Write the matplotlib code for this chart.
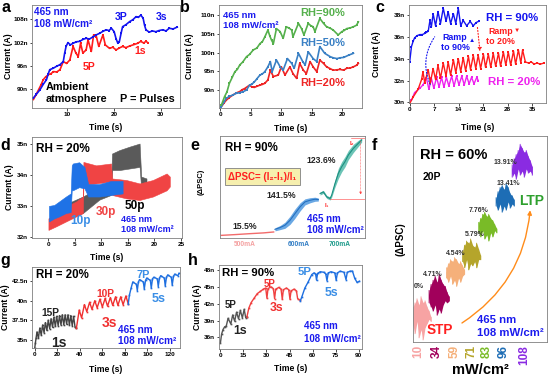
import matplotlib
matplotlib.use("Agg")
import matplotlib.pyplot as plt
import numpy as np

plt.rcParams["font.family"] = ["Liberation Sans", "DejaVu Sans"]
plt.rcParams["font.weight"] = "bold"
plt.rcParams["axes.linewidth"] = 0.6
plt.rcParams["axes.edgecolor"] = "#808080"

W, H = 548, 377

# ============================================================
# Data
# ============================================================

# (a) ambient atmosphere, 3P/3s vs 5P/1s
A_BLUE_T = [2.7, 3.3, 4.1, 4.8, 5.5, 5.9, 6.2, 7.0, 7.7, 8.4, 9.1, 9.4, 9.7, 10.1, 10.6, 11.2, 11.9, 12.6,
            13.3, 14.0, 14.7, 15.5, 16.2, 16.9, 17.6, 18.3, 18.9, 19.4, 20.0, 20.4, 20.8, 21.1, 21.5, 21.8,
            22.5, 23.3, 24.0, 24.7, 25.2, 25.7, 26.2, 26.5, 26.8, 27.5, 28.2, 28.9, 29.6, 30.4, 31.1, 31.8,
            32.6, 33.5]
A_BLUE_I = [87.7, 88.6, 89.8, 91.2, 92.4, 94.0, 95.0, 95.4, 95.9, 96.3, 97.1, 99.3, 101.0, 102.0, 101.4,
            101.8, 102.2, 102.3, 102.8, 103.1, 102.9, 103.5, 104.0, 104.4, 104.9, 105.3, 105.1, 105.7, 104.8,
            103.0, 101.8, 102.2, 104.5, 106.1, 106.6, 107.4, 107.9, 108.7, 108.5, 109.1, 108.3, 106.5, 105.3,
            104.7, 105.0, 104.8, 105.1, 105.3, 105.0, 105.7, 105.5, 106.0]
A_RED_T = [2.7, 3.2, 3.8, 4.3, 4.8, 5.3, 5.9, 6.5, 7.0, 7.7, 8.4, 9.1, 9.8, 10.5, 11.2, 11.8, 12.3, 12.8,
           13.3, 14.0, 14.4, 15.1, 15.6, 16.2, 16.7, 17.6, 18.1, 19.0, 19.7, 20.4, 21.1, 21.8, 22.5, 23.3,
           24.3, 25.0, 25.7, 26.3, 26.8, 27.2]
A_RED_I = [87.3, 88.4, 89.8, 91.0, 92.4, 93.1, 93.7, 94.0, 94.5, 94.4, 95.0, 97.1, 96.6, 97.5, 101.0, 99.3,
           98.4, 101.8, 99.3, 100.1, 102.7, 99.7, 104.0, 103.5, 101.0, 104.0, 101.4, 100.5, 100.8, 100.1,
           100.6, 101.0, 100.7, 101.1, 101.5, 101.8, 102.3, 101.9, 102.3, 102.0]

# (b) humidity 20 / 50 / 90 %
B_GREEN_T = [0.2, 0.7, 1.1, 1.5, 2.0, 2.4, 2.8, 3.2, 3.7, 4.3, 4.8, 5.4, 6.0, 6.5, 6.9, 7.3, 7.8, 8.1, 8.4,
             8.7, 9.2, 9.8, 10.3, 10.8, 11.3, 11.7, 11.9, 12.8, 13.3, 13.7, 14.4, 14.8, 15.2, 15.5, 16.3,
             16.9, 17.4, 18.0, 18.5, 19.3, 19.9, 20.3, 20.7, 21.3, 21.8, 22.3, 22.6]
B_GREEN_I = [86.0, 88.2, 89.5, 91.8, 93.5, 94.9, 95.5, 96.7, 97.5, 98.9, 99.5, 100.7, 101.2, 102.4, 102.9,
             104.2, 106.0, 104.5, 103.3, 102.4, 106.4, 105.6, 103.8, 106.9, 106.5, 106.0, 104.2, 107.8,
             106.4, 104.7, 107.8, 107.2, 106.9, 105.6, 109.1, 107.8, 106.9, 106.5, 106.0, 104.7, 105.6,
             105.9, 106.4, 106.6, 106.9, 107.3, 108.2]
B_BLUE_T = [0.2, 0.6, 1.0, 1.5, 2.1, 2.6, 3.2, 3.8, 4.3, 4.8, 5.2, 5.6, 6.0, 6.5, 6.9, 7.3, 7.8, 8.2, 8.5,
            9.2, 9.8, 10.3, 11.0, 11.7, 12.1, 12.8, 13.5, 13.9, 14.4, 15.2, 15.8, 16.3, 17.1, 18.0, 18.5,
            19.1, 19.6, 20.2, 21.0, 21.8]
B_BLUE_I = [85.6, 86.8, 87.8, 88.3, 88.7, 89.1, 89.3, 89.6, 90.0, 91.3, 91.6, 92.2, 93.0, 94.0, 94.3, 94.9,
            96.2, 97.6, 94.9, 98.0, 96.2, 95.3, 98.4, 97.1, 95.8, 99.8, 97.6, 96.7, 100.2, 98.4, 97.6, 101.6,
            99.8, 98.9, 98.6, 98.4, 98.6, 98.7, 99.3, 99.8]
B_RED_T = [0.2, 0.6, 1.0, 1.5, 2.1, 2.6, 3.2, 3.6, 4.0, 4.8, 5.2, 5.6, 6.0, 6.5, 6.9, 7.3, 7.8, 8.2, 8.7,
           9.5, 10.0, 10.6, 11.4, 11.9, 12.5, 13.0, 13.6, 14.1, 14.7, 15.2, 15.8, 16.3, 16.9, 17.4, 18.0,
           18.5, 19.1, 19.6, 20.2, 20.7, 21.3, 21.8, 22.3, 22.6]
B_RED_I = [85.6, 86.5, 87.3, 88.0, 88.7, 89.2, 89.6, 90.1, 90.4, 91.3, 90.8, 90.7, 91.0, 91.3, 91.5, 91.8,
           92.7, 95.3, 93.6, 94.0, 96.2, 94.0, 96.2, 94.4, 93.1, 97.1, 95.3, 94.4, 97.6, 96.2, 94.9, 98.0,
           97.1, 96.2, 95.7, 95.3, 95.4, 95.5, 95.3, 95.8, 95.9, 96.2, 96.6, 97.1]

# (c) ramping humidity
C_BLUE_T = [0.0, 0.5, 1.0, 1.4, 2.1, 2.9, 3.6, 4.3, 4.8, 5.3, 5.8, 6.2, 6.7, 7.4, 8.1, 8.8, 9.6, 10.4, 11.0,
            11.7, 12.5, 13.2, 13.9, 14.6, 15.3, 16.3, 17.3, 18.2, 19.0, 19.7]
C_BLUE_I = [33.7, 35.1, 35.6, 35.9, 36.1, 36.2, 36.2, 36.3, 36.4, 36.5, 37.5, 36.9, 38.1, 37.0, 38.3, 37.2,
            38.6, 37.4, 38.3, 37.2, 38.1, 37.2, 38.6, 37.0, 37.5, 37.0, 37.4, 37.0, 37.3, 37.4]
C_RED_T = [0.0, 1.0, 2.4, 3.4, 3.8, 4.3, 5.3, 5.9, 6.7, 7.4, 8.1, 8.8, 9.6, 10.4, 11.0, 11.7, 12.5, 13.2,
           13.9, 14.6, 15.3, 16.0, 16.8, 17.4, 18.2, 18.9, 19.6, 20.3, 21.1, 21.7, 22.5, 23.2, 23.9, 24.6,
           25.4, 26.0, 26.8, 27.5, 28.2, 28.9, 29.7, 30.3, 31.1, 31.8, 32.3, 33.1, 34.0, 34.8, 35.6, 36.4,
           37.4, 38.4]
C_RED_I = [29.9, 30.5, 31.2, 32.1, 32.8, 31.8, 33.0, 31.8, 33.1, 32.1, 33.4, 32.2, 33.6, 32.4, 33.7, 32.5,
           33.9, 32.7, 34.0, 32.8, 34.1, 32.9, 34.2, 33.0, 34.3, 33.1, 34.3, 33.1, 34.4, 33.2, 34.4, 33.2,
           34.5, 33.3, 34.5, 33.3, 34.6, 33.4, 34.6, 33.4, 34.7, 33.5, 34.8, 33.6, 34.8, 33.7, 33.6, 33.7,
           33.5, 33.6, 33.5, 33.6]
C_MAG_T = [0.5, 1.4, 2.9, 3.8, 4.8, 5.5, 6.2, 6.9, 7.7, 8.4, 9.1, 9.8, 10.5, 11.2, 12.0, 12.7, 13.4, 14.1,
           14.9, 15.6, 16.3, 17.0, 17.7, 18.4, 19.2, 19.6]
C_MAG_I = [30.2, 30.9, 31.3, 31.6, 32.2, 31.2, 32.2, 31.3, 32.3, 31.4, 32.3, 31.4, 32.3, 31.5, 32.4, 31.5,
           32.4, 31.6, 32.4, 31.6, 32.4, 31.7, 32.3, 31.7, 32.3, 32.0]

# (d) 10p / 30p / 50p, noisy bands (time, lower, upper)
D_BLK_T = [0.8, 6.5, 9.6, 11.8, 12.0, 13.4, 15.3, 17.2, 17.5, 18.5]
D_BLK_LO = [32.40, 32.77, 33.20, 33.35, 34.15, 34.15, 34.20, 34.25, 33.56, 33.46]
D_BLK_HI = [32.87, 33.30, 33.60, 33.67, 34.68, 34.79, 34.90, 35.00, 33.94, 33.88]
D_RED_T = [0.0, 1.4, 3.3, 5.2, 6.5, 6.6, 9.0, 11.8, 12.0, 14.7, 17.2, 19.7, 22.3, 22.9]
D_RED_LO = [32.23, 32.34, 32.50, 32.66, 32.77, 33.67, 33.72, 33.78, 33.35, 33.24, 33.19, 33.30, 33.50, 33.62]
D_RED_HI = [32.60, 32.77, 32.98, 33.14, 33.30, 34.41, 34.30, 34.36, 33.88, 33.83, 33.72, 33.83, 34.04, 33.94]
D_BLU_T = [0.1, 1.1, 2.0, 3.3, 4.2, 4.4, 4.6, 5.8, 6.8, 7.5, 9.6, 11.8, 14.0]
D_BLU_LO = [32.50, 32.60, 32.66, 32.77, 32.80, 33.50, 33.50, 33.60, 33.56, 33.30, 33.30, 33.35, 33.40]
D_BLU_HI = [33.00, 33.03, 33.14, 33.30, 33.40, 34.30, 34.36, 34.40, 34.25, 33.70, 33.70, 33.80, 33.80]

# (e) dPSC vs LED current (arbitrary 0-100 scale), centre and half width of band
E_RED_X = [1, 10, 20, 30, 37]
E_RED_Y = [2.6, 3.3, 4.2, 5.0, 5.9]
E_BLUE_X = [37.9, 41.4, 44.8, 48.3, 51.7, 55.2, 58.6, 62.1, 65.5, 67.8]
E_BLUE_Y = [8.5, 10.2, 12.5, 17.4, 23.9, 30.5, 35.4, 37.0, 38.0, 37.7]
E_BLUE_W = [1.5, 2.0, 3.0, 4.0, 4.5, 4.0, 3.0, 2.5, 2.0, 1.5]
E_TEAL_X = [69.0, 71.3, 73.6, 75.9, 77.0, 79.3, 81.6, 83.9, 86.2, 88.5, 92.0, 95.4, 97.7]
E_TEAL_Y = [43.6, 45.2, 40.3, 38.7, 42.0, 53.4, 63.3, 69.8, 74.8, 81.3, 87.9, 92.8, 96.1]
E_TEAL_W = [1.5, 1.5, 1.5, 1.5, 2.0, 3.5, 5.0, 5.0, 5.0, 4.5, 4.0, 3.0, 2.0]
E_CURRENTS = ["500mA", "600mA", "700mA"]
E_PCT = ["15.5%", "141.5%", "123.6%"]

# (f) 20 pulses at increasing intensity (arbitrary 0-100 scale)
F_LEVELS = ["10", "34", "59", "71", "83", "96", "108"]
F_TICKS = [4.2, 17.9, 30.8, 43.3, 55.2, 67.7, 83.1]
F_PCT = ["0%", "4.71%", "4.54%", "5.79%", "7.76%", "13.41%", "13.91%"]
F_X = [[0, 1.5, 3, 4.5, 6, 7.5, 9, 10.5, 12, 13.5],
       [12, 13.5, 15, 16.5, 18, 19.5, 21, 22.5, 24, 25.5, 27],
       [25, 26.5, 28, 29.5, 31, 32.5, 34, 35.5, 37, 38.5],
       [37, 38.5, 40, 41.5, 43, 44.5, 46, 47.5, 49, 50.5],
       [49, 50.5, 52, 53.5, 55, 56.5, 58, 59.5, 61, 62.5],
       [62, 63.5, 65, 66.5, 68, 69.5, 71, 72.5, 74, 75.5],
       [74, 75.5, 77, 78.5, 80, 81.5, 83, 84.5, 86, 87.5, 89]]
F_HI = [[17, 19, 21, 18, 22, 19, 20, 17, 15, 12],
        [25, 28, 30, 32, 29, 33, 30, 28, 27, 24, 22],
        [36, 38, 40, 39, 41, 40, 38, 39, 37, 35],
        [44, 47, 49, 48, 50, 47, 46, 48, 45, 42],
        [58, 60, 62, 63, 61, 62, 60, 59, 57, 55],
        [70, 73, 75, 76, 74, 77, 75, 72, 71, 69],
        [86, 89, 91, 93, 96, 94, 92, 93, 90, 88, 85]]
F_LO = [[8, 4, 10, 2, 6, 1, 7, 9, 11, 10],
        [19, 17, 15, 18, 13, 16, 14, 18, 20, 19, 20],
        [31, 29, 32, 28, 30, 27, 31, 29, 32, 33],
        [39, 36, 40, 35, 38, 37, 39, 36, 40, 40],
        [53, 51, 54, 50, 52, 49, 53, 51, 54, 53],
        [66, 64, 67, 63, 66, 64, 68, 65, 67, 66],
        [80, 82, 79, 84, 81, 83, 80, 84, 82, 83, 81]]
F_COLORS = ["#f7a3a3", "#a1005b", "#f5b07a", "#b5a52b", "#79bb27", "#1d6db5", "#8a2be2"]
F_PCT_POS = [(0.5, 26.7), (7.5, 32.9), (24.9, 43.0), (39.0, 52.2), (41.5, 63.7), (62.2, 77.0), (60.2, 87.2)]

# (g) RH 20 %, 1s / 3s / 5s pulses
G_BLK_T = [0.0, 0.6, 1.2, 2.0, 3.3, 4.5, 5.8, 7.0, 8.3, 9.5, 10.8, 12.0, 13.3, 14.5, 15.8, 17.0, 18.3, 19.5,
           20.8, 22.0, 23.3, 24.5, 25.8, 27.0, 28.3, 29.5, 30.8, 32.0, 33.3, 34.5, 35.8, 37.0]
G_BLK_I = [33.9, 34.6, 35.2, 36.0, 35.2, 36.5, 35.6, 36.9, 35.9, 37.2, 36.2, 37.5, 36.4, 37.7, 36.6, 37.9,
           36.7, 38.0, 36.8, 38.1, 36.9, 38.2, 36.9, 38.2, 37.0, 38.2, 36.9, 38.1, 36.8, 38.0, 36.6, 36.5]
G_RED_T = [37.0, 39.5, 41.6, 44.1, 46.2, 48.7, 50.8, 53.3, 55.4, 57.9, 60.0, 62.5, 64.6, 67.1, 69.2, 71.7,
           73.8, 76.3, 78.4, 80.9, 83.0]
G_RED_I = [36.5, 38.8, 37.8, 39.5, 38.6, 39.8, 38.9, 40.0, 39.1, 40.2, 39.2, 40.3, 39.3, 40.4, 39.4, 40.5,
           39.4, 40.5, 39.5, 40.6, 39.6]
G_BLU_T = [83.0, 84.0, 85.5, 87.0, 90.2, 91.0, 92.0, 93.0, 96.4, 97.2, 98.3, 99.4, 102.6, 103.4, 104.5,
           105.6, 108.8, 109.6, 110.7, 111.8, 115.0, 115.8, 116.9, 118.0, 121.2, 122.0, 123.1, 124.2,
           127.0, 128.0]
G_BLU_I = [39.6, 40.7, 41.6, 42.4, 42.1, 41.3, 42.4, 42.7, 42.4, 41.5, 42.6, 42.9, 42.6, 41.6, 42.8, 43.0,
           42.8, 41.8, 42.9, 43.2, 42.9, 41.9, 43.0, 43.3, 43.0, 42.0, 43.1, 43.4, 43.2, 43.5]

# (h) RH 90 %, 1s / 3s / 5s pulses
H_BLK_T = [0.0, 0.8, 1.7, 2.8, 3.8, 5.0, 6.8, 8.0, 9.3, 10.5, 11.8, 13.0, 14.3, 15.5, 16.5, 17.3]
H_BLK_I = [35.0, 36.6, 37.4, 37.9, 38.0, 39.4, 38.4, 40.0, 38.9, 40.5, 39.3, 40.8, 39.5, 41.0, 39.5, 39.7]
H_RED_T = [17.3, 18.5, 20.0, 22.0, 24.0, 26.0, 28.0, 29.5, 30.3, 31.0, 33.0, 34.5, 35.3, 36.0, 38.0, 39.5,
           40.3, 41.0, 43.0, 44.5, 45.3, 46.0, 48.0, 49.5, 50.3, 52.0]
H_RED_I = [39.7, 41.2, 42.2, 43.0, 43.8, 44.2, 44.6, 44.8, 43.0, 44.7, 45.0, 44.7, 42.9, 44.6, 44.9, 44.6,
           42.8, 44.5, 44.8, 44.5, 42.8, 44.3, 44.6, 44.3, 42.9, 42.6]
H_BLU_T = [52.0, 53.0, 55.0, 57.0, 59.5, 61.0, 62.0, 62.6, 63.3, 65.0, 67.5, 68.6, 69.4, 70.2, 72.0, 74.5,
           75.4, 76.2, 78.0, 80.5, 81.8, 82.6, 84.5, 86.0, 87.5, 89.0, 90.5]
H_BLU_I = [42.5, 43.2, 44.8, 45.8, 47.2, 47.5, 47.3, 46.2, 47.4, 47.7, 47.6, 47.3, 46.1, 47.5, 47.7, 47.5,
           46.2, 47.5, 47.8, 47.6, 46.3, 47.6, 47.8, 47.8, 46.5, 45.8, 46.0]

BLUE_TXT = "#1a1aee"
LIGHT_BLUE = "#3a8ee6"
SOURCE = ["465 nm", "108 mW/cm²"]


# ============================================================
# Helpers
# ============================================================

fig = plt.figure(figsize=(W / 100, H / 100), dpi=100)


def add_panel(box):
    l, t, r, b = box
    return fig.add_axes([l / W, 1 - b / H, (r - l) / W, (b - t) / H])


def time_axes(ax, box, xlim, ylim, xticks, yticks, yfmt, ylab_px, xlab_py):
    l, t, r, b = box
    ax.set_xlim(xlim)
    ax.set_ylim(ylim)
    ax.set_xticks(xticks)
    ax.set_yticks(yticks)
    ax.set_yticklabels([yfmt.format(v) for v in yticks])
    ax.tick_params(labelsize=4.6, length=1.8, width=0.5, pad=1.2)
    ax.set_xlabel("Time (s)", fontsize=6.2, fontweight="bold")
    ax.set_ylabel("Current (A)", fontsize=6.2, fontweight="bold")
    ax.yaxis.set_label_coords((ylab_px - l) / (r - l), 0.5)
    ax.xaxis.set_label_coords(0.5, -(xlab_py - b) / (b - t))


def txt(ax, x, y, s, color="black", size=7, ha="left"):
    ax.text(x, y, s, color=color, fontsize=size, fontweight="bold", ha=ha, va="center")


def trace(ax, t, i, color, lw=1.2, ms=1.6):
    ax.plot(t, i, color=color, lw=lw, marker="s", ms=ms, mew=0)


# ============================================================
# Panels
# ============================================================

# ---- a ----
box = (32, 5, 180, 108)
ax = add_panel(box)
trace(ax, A_RED_T, A_RED_I, "#ff1c1c")
trace(ax, A_BLUE_T, A_BLUE_I, "#1414f0")
time_axes(ax, box, (2.4, 34.1), (85.1, 111.7), [10, 20, 30], [90, 96, 102, 108], "{}n", 13, 123)
txt(ax, 2.9, 109.8, SOURCE[0], BLUE_TXT, 7.2)
txt(ax, 2.9, 106.9, SOURCE[1], BLUE_TXT, 7.2)
txt(ax, 21.4, 108.5, "3P", "#1414f0", 7.5, "center")
txt(ax, 30.1, 108.5, "3s", "#1414f0", 7.5, "center")
txt(ax, 14.7, 95.7, "5P", "#ff1c1c", 7.5, "center")
txt(ax, 25.5, 99.7, "1s", "#ff1c1c", 7.5, "center")
txt(ax, 5.4, 90.5, "Ambient", "black", 7.8)
txt(ax, 5.4, 87.3, "atmosphere", "black", 7.8)
txt(ax, 21.2, 87.3, "P = Pulses", "black", 7.8)

# ---- b ----
box = (219, 5, 362, 108)
ax = add_panel(box)
trace(ax, B_RED_T, B_RED_I, "#ee2424")
trace(ax, B_BLUE_T, B_BLUE_I, "#3a80c4")
trace(ax, B_GREEN_T, B_GREEN_I, "#55b04c")
time_axes(ax, box, (-0.2, 23.2), (85.2, 112.7), [0, 5, 10, 15, 20], [90, 95, 100, 105, 110], "{}n", 194, 124)
txt(ax, 0.5, 110.0, SOURCE[0], BLUE_TXT, 6.8)
txt(ax, 0.5, 107.2, SOURCE[1], BLUE_TXT, 6.8)
txt(ax, 16.8, 110.6, "RH=90%", "#55b04c", 8, "center")
txt(ax, 16.8, 102.6, "RH=50%", "#3a80c4", 8, "center")
txt(ax, 16.8, 91.9, "RH=20%", "#ee2424", 8, "center")

# ---- c ----
box = (409, 5, 546, 103)
ax = add_panel(box)
trace(ax, C_MAG_T, C_MAG_I, "#ee22ee", lw=1.0)
trace(ax, C_RED_T, C_RED_I, "#ff1c1c", lw=1.0)
trace(ax, C_BLUE_T, C_BLUE_I, "#1414f0", lw=1.0)
time_axes(ax, box, (-0.2, 39.0), (29.95, 38.9), [0, 7, 14, 21, 28, 35], [30, 32, 34, 36, 38], "{}n", 381, 123)
ax.annotate("", xy=(7.6, 36.2), xytext=(6.2, 31.4),
            arrowprops=dict(arrowstyle="-", color="#1414f0", lw=0.8, ls=":",
                            connectionstyle="arc3,rad=-0.3"))
ax.annotate("", xy=(20.2, 34.4), xytext=(19.3, 37.1),
            arrowprops=dict(arrowstyle="-|>", color="#ff1c1c", lw=0.8, ls=":", mutation_scale=5))
txt(ax, 29.3, 37.7, "RH = 90%", "#1414f0", 8.2, "center")
txt(ax, 13.0, 35.45, "Ramp\nto 90%", "#1414f0", 6.4, "center")
txt(ax, 17.8, 35.65, "▲", "#1414f0", 4.5, "center")
txt(ax, 26.0, 36.05, "Ramp\nto 20%", "#ff1c1c", 6.4, "center")
txt(ax, 30.7, 36.55, "▼", "#ff1c1c", 4.5, "center")
txt(ax, 29.8, 31.9, "RH = 20%", "#ee22ee", 8.2, "center")

# ---- d ----
box = (32, 137, 182, 238)
ax = add_panel(box)
ax.fill_between(D_BLK_T, D_BLK_LO, D_BLK_HI, color="#5a5a5a", lw=0.4, ec="#5a5a5a")
ax.fill_between(D_RED_T, D_RED_LO, D_RED_HI, color="#f04444", lw=0.4, ec="#f04444")
ax.fill_between(D_BLU_T, D_BLU_LO, D_BLU_HI, color="#1f72e6", lw=0.4, ec="#1f72e6")
time_axes(ax, box, (-3.1, 25.2), (31.97, 35.21), [0, 5, 10, 15, 20, 25], [32, 33, 34, 35], "{}n", 14, 253)
txt(ax, -2.3, 34.84, "RH = 20%", "black", 8.5)
txt(ax, 14.4, 33.0, "50p", "black", 8.5)
txt(ax, 9.0, 32.82, "30p", "#f04444", 8.5)
txt(ax, 4.2, 32.53, "10p", LIGHT_BLUE, 8.5)
txt(ax, 13.7, 32.57, SOURCE[0], BLUE_TXT, 6.5)
txt(ax, 13.7, 32.23, SOURCE[1], BLUE_TXT, 6.5)

# ---- e ----
box = (220, 136, 365, 238)
l, t, r, b = box
ax = add_panel(box)
ax.set_xlim(0, 100)
ax.set_ylim(0, 100)
ax.set_xticks([])
ax.set_yticks([])
ax.plot(E_RED_X, E_RED_Y, color="#f26b6b", lw=1.0)
by = np.array(E_BLUE_Y)
bw = np.array(E_BLUE_W)
ax.fill_between(E_BLUE_X, by - bw, by + bw, color="#6aa8e4", lw=0)
ax.plot(E_BLUE_X, E_BLUE_Y, color="#2470c0", lw=0.8)
ty = np.array(E_TEAL_Y)
tw = np.array(E_TEAL_W)
ax.fill_between(E_TEAL_X, ty - tw, ty + tw, color="#6cc4b6", lw=0)
ax.plot(E_TEAL_X, E_TEAL_Y, color="#1b8f80", lw=0.8)
i1, i2 = min(E_TEAL_Y[:5]), E_TEAL_Y[-1]
ax.plot([E_TEAL_X[3], 100], [i1, i1], color="#ff4040", lw=0.4)
ax.plot([90, 100], [i2 + 1.5, i2 + 1.5], color="#ff4040", lw=0.4)
ax.annotate("", xy=(97, i1 + 1), xytext=(97, i2 + 1.5),
            arrowprops=dict(arrowstyle="-|>", color="#ff4040", lw=0.4, ls=":", mutation_scale=4))
txt(ax, 90.8, 93.0, "I₂", "#ff3030", 4.5, "center")
txt(ax, 73.6, 32.0, "I₁", "#ff3030", 4.5, "center")
txt(ax, 3.4, 87.9, "RH = 90%", "black", 8.3)
ax.text(5.5, 60, "ΔPSC= (I₂-I₁)/I₁", color="#ff2020", fontsize=7, fontweight="bold", ha="left", va="center",
        bbox=dict(boxstyle="square,pad=0.35", fc="#f6efae", ec="#808080", lw=0.6))
for x, y, s in zip([17.2, 42.5, 70.0], [10.8, 42.0, 75.7], E_PCT):
    txt(ax, x, y, s, "#222222", 6.2, "center")
txt(ax, 59.8, 19.0, SOURCE[0], BLUE_TXT, 7)
txt(ax, 59.8, 8.2, SOURCE[1], BLUE_TXT, 7)
for x, s, c in zip([17.2, 54.0, 82.8], E_CURRENTS, ["#f4a0a0", "#2f7cc4", "#1c9a8a"]):
    ax.text(x, -2.5, s, color=c, fontsize=4.8, fontweight="bold", ha="center", va="top")
ax.set_ylabel("(ΔPSC)", fontsize=5.5, fontweight="bold")
ax.yaxis.set_label_coords((205 - l) / (r - l), 0.55)

# ---- f ----
box = (413, 136, 547, 342)
l, t, r, b = box
ax = add_panel(box)
ax.set_xlim(0, 100)
ax.set_ylim(0, 100)
ax.set_yticks([])
for xs, hi, lo, c in zip(F_X, F_HI, F_LO, F_COLORS):
    ax.fill_between(xs, lo, hi, color=c, lw=0)
    zz_x = np.repeat(xs, 2)
    zz_y = np.ravel(np.column_stack([hi, lo]))
    ax.plot(zz_x, zz_y, color=c, lw=0.6)
for (x, y), s in zip(F_PCT_POS, F_PCT):
    txt(ax, x, y, s, "#333333", 5)
ax.set_xticks(F_TICKS)
ax.set_xticklabels(F_LEVELS, rotation=90, fontsize=8.5, fontweight="bold")
for lab, c in zip(ax.get_xticklabels(), F_COLORS):
    lab.set_color(c)
ax.tick_params(axis="x", length=0, pad=2)
ax.set_xlabel("mW/cm²", fontsize=10.5, fontweight="bold")
ax.xaxis.set_label_coords(0.5, -(363 - b) / (b - t))
ax.set_ylabel("(ΔPSC)", fontsize=7, fontweight="bold")
ax.yaxis.set_label_coords((405 - l) / (r - l), 0.5)
txt(ax, 5.5, 90.8, "RH = 60%", "black", 10.5)
txt(ax, 7.5, 80.2, "20P", "black", 7.5)
txt(ax, 78.9, 68.4, "LTP", "#2ea02e", 10)
txt(ax, 10.0, 5.7, "STP", "#ff2020", 9.8)
txt(ax, 47.8, 10.9, SOURCE[0], BLUE_TXT, 8.2)
txt(ax, 47.8, 4.5, SOURCE[1], BLUE_TXT, 8.2)
ax.annotate("", xy=(87.6, 65.3), xytext=(34.8, 8.5),
            arrowprops=dict(arrowstyle="-|>", color="#ff8c1a", lw=1.0, mutation_scale=6,
                            connectionstyle="arc3,rad=0.25"))

# ---- g ----
box = (32, 267, 180, 348)
ax = add_panel(box)
trace(ax, G_BLK_T, G_BLK_I, "#444444", lw=1.0, ms=1.2)
trace(ax, G_RED_T, G_RED_I, "#f03030", lw=1.0, ms=1.2)
trace(ax, G_BLU_T, G_BLU_I, "#1e6fe0", lw=1.0, ms=1.2)
time_axes(ax, box, (-2.4, 128.9), (33.95, 44.31), [0, 20, 40, 60, 80, 100, 120], [35, 37.5, 40, 42.5],
          "{:g}n", 10, 365)
txt(ax, 1.5, 43.26, "RH = 20%", "black", 8.3)
txt(ax, 5.9, 38.4, "15P", "#222222", 7.4)
txt(ax, 14.8, 34.6, "1s", "#222222", 10)
txt(ax, 54.8, 40.9, "10P", "#f03030", 7.4)
txt(ax, 59.3, 37.1, "3s", "#f03030", 10)
txt(ax, 90.4, 43.26, "7P", LIGHT_BLUE, 7.8)
txt(ax, 103.7, 40.2, "5s", LIGHT_BLUE, 9)
txt(ax, 74.0, 36.3, SOURCE[0], BLUE_TXT, 7.2)
txt(ax, 74.0, 34.9, SOURCE[1], BLUE_TXT, 7.2)

# ---- h ----
box = (219, 265, 362, 349)
ax = add_panel(box)
trace(ax, H_BLK_T, H_BLK_I, "#555555", lw=1.0, ms=1.2)
trace(ax, H_RED_T, H_RED_I, "#f04040", lw=1.0, ms=1.2)
trace(ax, H_BLU_T, H_BLU_I, "#1e6fe0", lw=1.0, ms=1.2)
time_axes(ax, box, (-0.9, 92.2), (33.94, 48.9), [0, 15, 30, 45, 60, 75, 90], [36, 39, 42, 45, 48],
          "{}n", 202, 364)
txt(ax, 1.3, 47.4, "RH = 90%", "black", 8.2)
txt(ax, 2.8, 41.8, "5P", "#222222", 7)
txt(ax, 8.1, 37.1, "1s", "#222222", 8.8)
txt(ax, 28.0, 45.5, "5P", "#f03030", 7.0)
txt(ax, 32.0, 41.2, "3s", "#f03030", 8.8)
txt(ax, 50.4, 47.7, "5P", LIGHT_BLUE, 8.2)
txt(ax, 68.0, 43.9, "5s", LIGHT_BLUE, 8.8)
txt(ax, 54.7, 38.0, SOURCE[0], BLUE_TXT, 7)
txt(ax, 54.7, 35.7, SOURCE[1], BLUE_TXT, 7)

# ---- panel letters ----
for s, x, y in [("a", 1, 12), ("b", 180, 12), ("c", 375, 12), ("d", 0, 150),
                ("e", 190, 150), ("f", 372, 150), ("g", 0, 265), ("h", 188, 265)]:
    fig.text(x / W, 1 - y / H, s, fontsize=11.5, fontweight="bold", ha="left", va="baseline")

fig.savefig("out.png", dpi=100)
